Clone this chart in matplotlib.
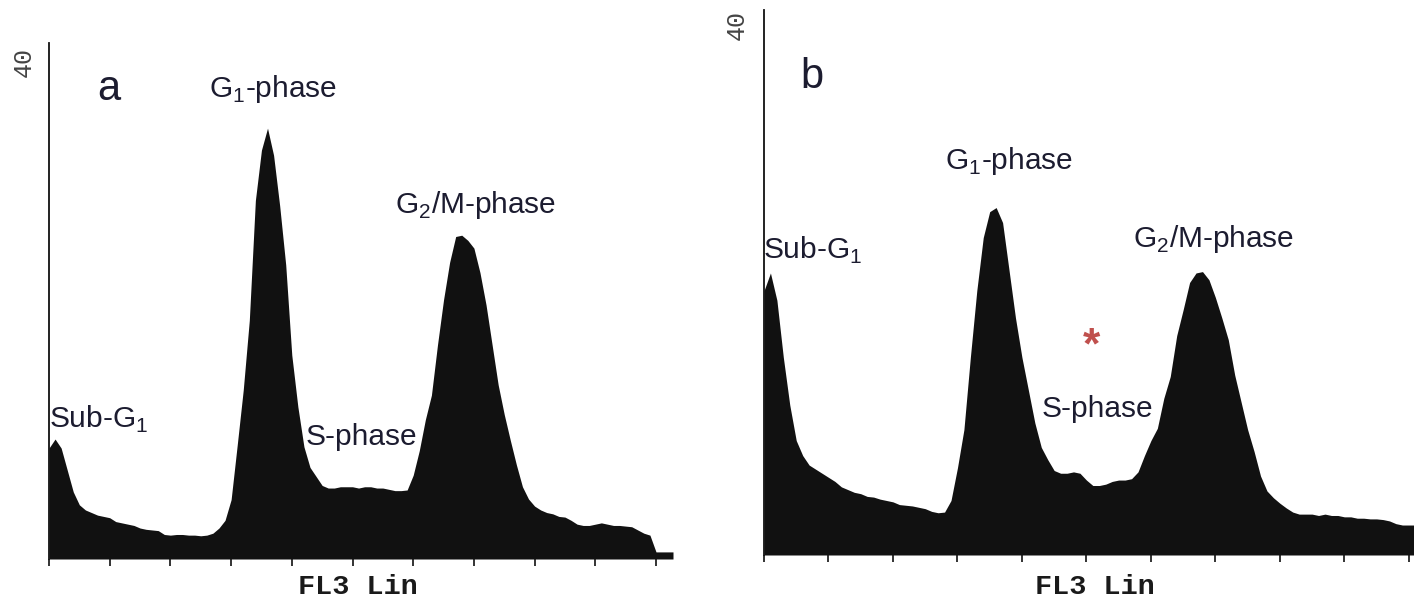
import numpy as np
from matplotlib import pyplot as plt

plt.rcParams["mathtext.fontset"] = "custom"
plt.rcParams["mathtext.rm"] = "Liberation Sans"

# FL3 channel bins (width 10) and cell counts
channels_a = np.arange(0, 1030, 10)
counts_a = [
    8.6, 9.3, 8.6, 6.9, 5.2, 4.2, 3.8, 3.6, 3.4, 3.3,
    3.2, 2.9, 2.8, 2.7, 2.6, 2.4, 2.3, 2.25, 2.2, 1.9,
    1.85, 1.9, 1.9, 1.85, 1.85, 1.8, 1.85, 2.0, 2.4, 3.0,
    4.6, 8.8, 13.1, 18.5, 27.8, 31.7, 33.4, 31.3, 27.4, 22.8,
    15.8, 11.8, 8.7, 7.1, 6.4, 5.7, 5.5, 5.5, 5.6, 5.6,
    5.6, 5.5, 5.6, 5.6, 5.5, 5.5, 5.4, 5.3, 5.3, 5.35,
    6.5, 8.4, 10.8, 12.7, 16.6, 20.1, 23.0, 25.0, 25.1, 24.7,
    24.1, 22.2, 19.7, 16.6, 13.5, 11.2, 9.2, 7.3, 5.6, 4.65,
    4.1, 3.8, 3.6, 3.5, 3.3, 3.25, 3.0, 2.7, 2.6, 2.6,
    2.7, 2.8, 2.7, 2.6, 2.6, 2.55, 2.5, 2.25, 2.0, 1.85,
    0.55, 0.55, 0.55,
]
end_a = 1028

channels_b = np.arange(0, 1020, 10)
counts_b = [
    19.4, 20.7, 18.7, 14.5, 11.0, 8.4, 7.3, 6.6, 6.3, 6.0,
    5.7, 5.4, 5.0, 4.8, 4.6, 4.5, 4.3, 4.25, 4.1, 4.0,
    3.9, 3.7, 3.65, 3.6, 3.5, 3.4, 3.2, 3.1, 3.15, 4.0,
    6.4, 9.2, 14.5, 19.4, 23.3, 25.2, 25.5, 24.4, 20.9, 17.4,
    14.5, 12.1, 9.7, 7.9, 7.0, 6.2, 6.0, 6.0, 6.1, 6.0,
    5.5, 5.1, 5.1, 5.2, 5.4, 5.5, 5.5, 5.6, 6.1, 7.3,
    8.4, 9.3, 11.5, 13.1, 16.1, 18.0, 20.0, 20.7, 20.8, 20.2,
    18.9, 17.4, 15.8, 13.2, 11.2, 9.2, 7.6, 5.8, 4.7, 4.2,
    3.8, 3.45, 3.15, 3.0, 3.0, 3.0, 2.9, 3.0, 2.9, 2.9,
    2.8, 2.8, 2.7, 2.7, 2.65, 2.65, 2.6, 2.5, 2.3, 2.2,
    2.2, 2.2,
]
end_b = 1008

tick_positions = list(range(0, 1001, 100))
y_max = 40

# label text, channel, count (baseline position)
labels_a = [
    ("G$_{1}$-phase", 264, 35.8),
    ("G$_{2}$/M-phase", 570, 26.8),
    ("Sub-G$_{1}$", 0, 10.2),
    ("S-phase", 422, 8.8),
]
labels_b = [
    ("Sub-G$_{1}$", -2, 21.7),
    ("G$_{1}$-phase", 281, 28.3),
    ("G$_{2}$/M-phase", 572, 22.6),
    ("S-phase", 431, 10.1),
]

FILL = "#111111"
TEXT = "#1c1c30"


def draw_panel(ax, channels, counts, end, letter, letter_pos, labels, x_lim):
    x = np.append(channels, end)
    y = np.append(counts, counts[-1])
    ax.fill_between(x, 0, y, color=FILL, linewidth=0)

    ax.set_xlim(0, x_lim)
    ax.set_ylim(0, y_max)
    ax.set_xticks(tick_positions)
    ax.set_yticks([])
    ax.tick_params(axis="x", direction="out", length=5, width=1.2,
                   labelbottom=False, color="#111111")
    for side in ["top", "right", "bottom"]:
        ax.spines[side].set_visible(False)
    ax.spines["left"].set_linewidth(1.3)
    ax.spines["left"].set_color("#111111")

    ax.text(letter_pos[0], letter_pos[1], letter, fontsize=30,
            family="Liberation Sans", color=TEXT, va="baseline")
    for text, ch, cnt in labels:
        ax.text(ch, cnt, text, fontsize=21.5, family="Liberation Sans",
                color=TEXT, va="baseline", ha="left")


fig = plt.figure(figsize=(14.14, 5.98), dpi=100)

ax_a = fig.add_axes([49 / 1414, 39 / 598, 624 / 1414, 516 / 598])
draw_panel(ax_a, channels_a, counts_a, end_a, "a", (79, 35.6), labels_a, end_a)
ax_a.text(-0.040, 0.963, "40", transform=ax_a.transAxes, rotation=90,
          fontsize=18, family="Liberation Mono", color="#444444",
          ha="center", va="center")
ax_a.text(0.495, -0.054, "FL3 Lin", transform=ax_a.transAxes, fontsize=20.5,
          family="Liberation Mono", weight="bold", color="#1a1a1a",
          ha="center", va="center")

ax_b = fig.add_axes([764 / 1414, 43 / 598, 650 / 1414, 545 / 598])
draw_panel(ax_b, channels_b, counts_b, end_b, "b", (56, 34.3), labels_b, end_b)
ax_b.text(-0.0415, 0.9725, "40", transform=ax_b.transAxes, rotation=90,
          fontsize=18, family="Liberation Mono", color="#444444",
          ha="center", va="center")
ax_b.text(0.509, -0.059, "FL3 Lin", transform=ax_b.transAxes, fontsize=20.5,
          family="Liberation Mono", weight="bold", color="#1a1a1a",
          ha="center", va="center")
ax_b.text(508, 15.3, "*", fontsize=32, family="Liberation Sans",
          weight="bold", color="#c0504d", ha="center", va="center")

fig.savefig("out.png", dpi=100)
